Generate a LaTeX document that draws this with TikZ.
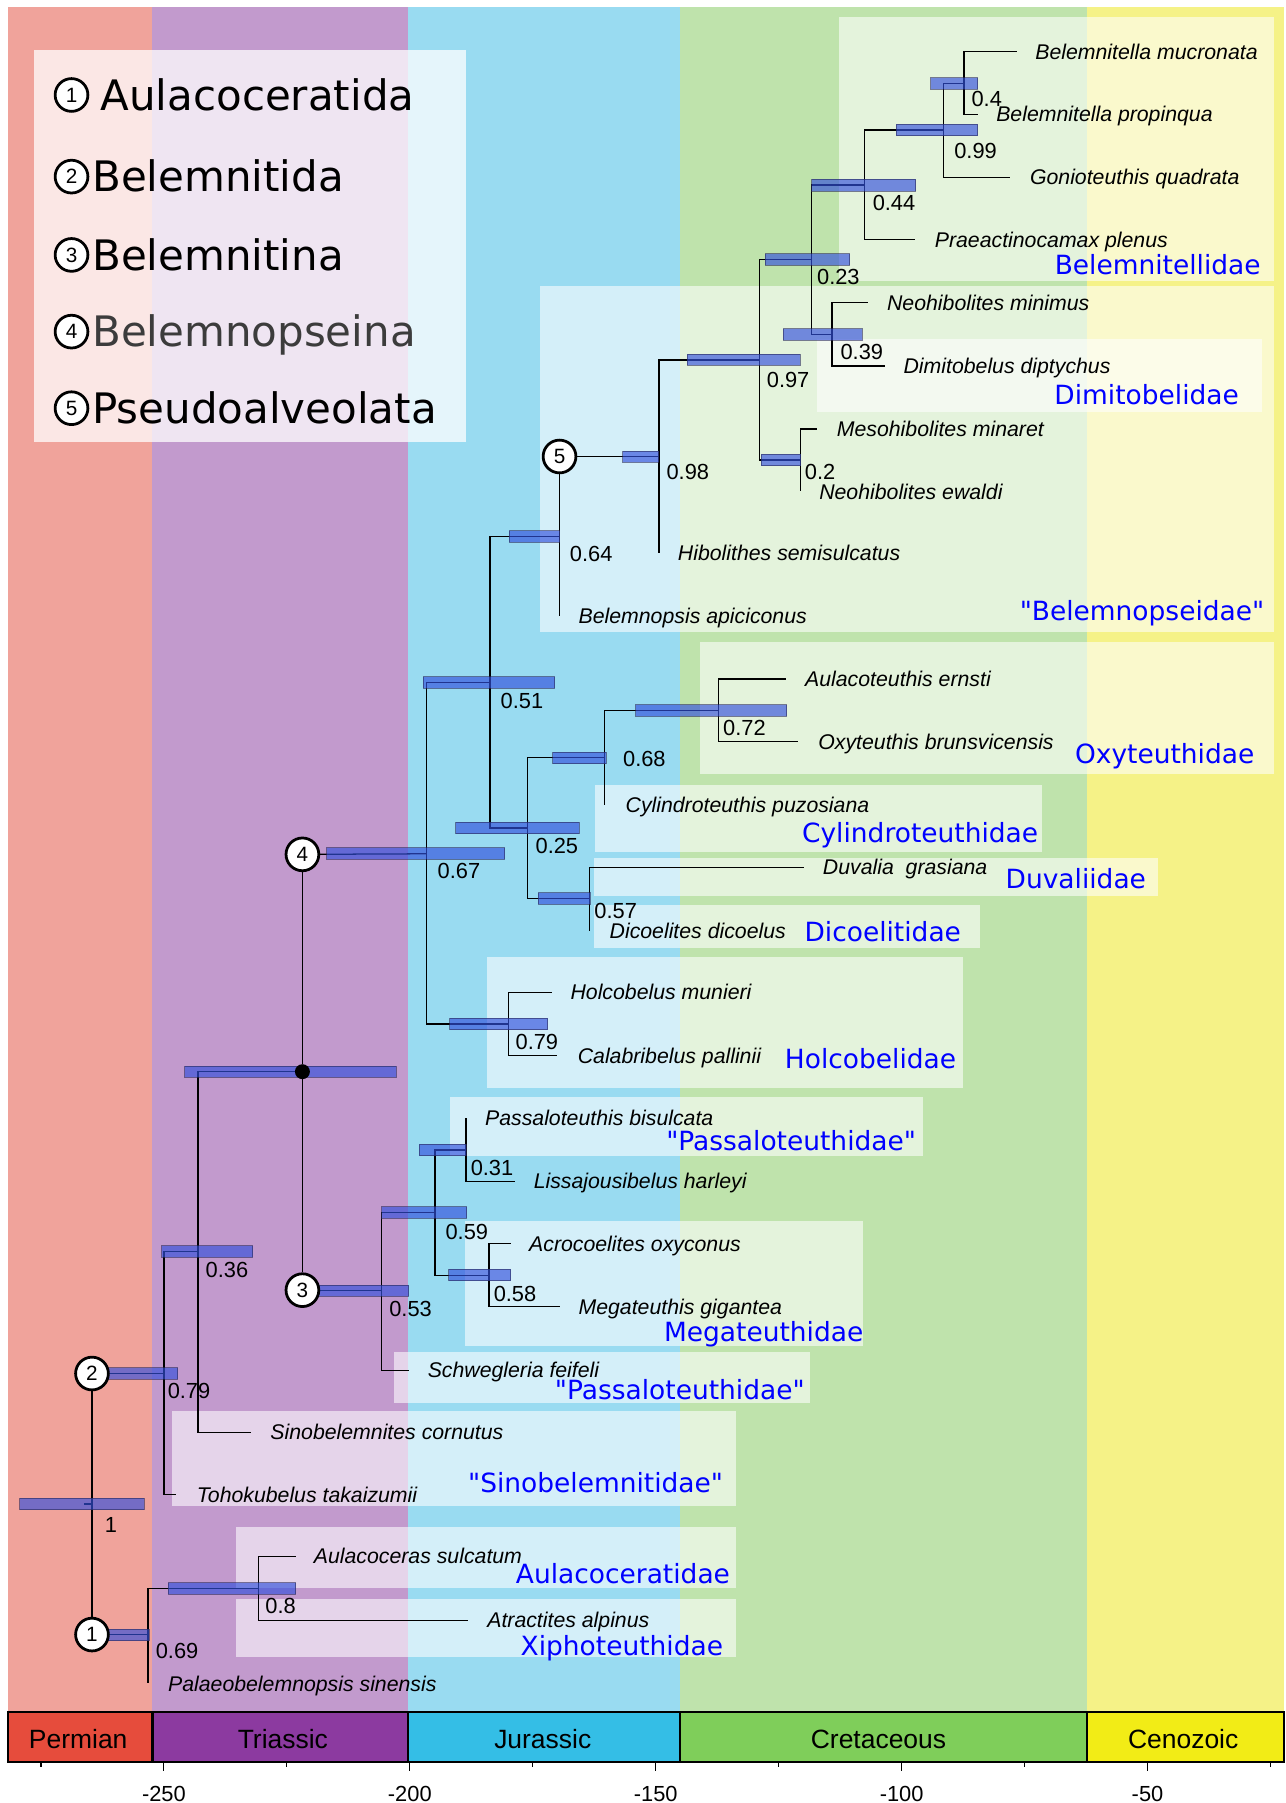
\documentclass[tikz,border=0pt]{standalone}
\usepackage{fontspec}
\setmainfont{Liberation Sans}
\newfontfamily\dejavu{DejaVu Sans}
\definecolor{perL}{RGB}{240,163,155}
\definecolor{triL}{RGB}{194,154,205}
\definecolor{jurL}{RGB}{153,219,241}
\definecolor{creL}{RGB}{191,227,172}
\definecolor{cenL}{RGB}{245,242,135}
\definecolor{perD}{RGB}{230,76,60}
\definecolor{triD}{RGB}{140,58,160}
\definecolor{jurD}{RGB}{52,190,230}
\definecolor{creD}{RGB}{127,206,90}
\definecolor{cenD}{RGB}{242,236,22}
\definecolor{barC}{RGB}{50,80,220}
\definecolor{barE}{RGB}{40,40,90}
\definecolor{cladeblue}{RGB}{0,0,255}
\definecolor{leggray}{RGB}{60,60,60}
\pgfdeclarelayer{back}
\pgfdeclarelayer{mid}
\pgfsetlayers{back,mid,main}
\begin{document}
\begin{tikzpicture}[x=1pt,y=-1pt,
  br/.style={line width=1.1pt, black},
  barbox/.style={fill=barC, fill opacity=0.65, draw=barE, draw opacity=0.6, line width=0.7pt},
  cbox/.style={fill=white, fill opacity=0.58, draw=none},
  circ/.style={circle, draw=black, line width=2.4pt, fill=white, minimum size=28.5pt, inner sep=0pt, font=\fontsize{18}{18}\selectfont},
  dotn/.style={circle, fill=black, minimum size=13pt, inner sep=0pt},
  tax/.style={anchor=base west, inner sep=0pt, font=\fontsize{18.5}{20}\selectfont\itshape},
  supp/.style={anchor=west, inner sep=0pt, font=\fontsize{19}{20}\selectfont},
  clade/.style={anchor=base east, inner sep=0pt, text=cladeblue, font=\dejavu\fontsize{23}{25}\selectfont},
  legtext/.style={anchor=base west, inner sep=0pt, font=\dejavu\fontsize{36.5}{38}\selectfont},
  period/.style={anchor=base, inner sep=0pt, font=\fontsize{23}{24}\selectfont},
  axlab/.style={anchor=base, inner sep=0pt, font=\fontsize{19}{20}\selectfont},
  tsbox/.style={draw=black, line width=1.8pt},
  tick/.style={line width=1pt, black}
]
\useasboundingbox (0,0) rectangle (1118,1568);

% ---------- circles and named tree points ----------
\node[circ] (c1) at (80,1421.5) {1};
\node[circ] (c2) at (80,1194.5) {2};
\node[circ] (c3) at (263,1122) {3};
\node[circ] (c4) at (263,743) {4};
\node[circ] (c5) at (486.6,397) {5};
\node[dotn] (dot) at (263,932) {};

\coordinate (rootT) at (73,1308);
\coordinate (root) at (80,1308);
\coordinate (a069) at (128.6,1421.5);
\coordinate (a08) at (224.9,1381.6);
\coordinate (a079) at (142.7,1194.5);
\coordinate (a036) at (172.2,1088.5);
\coordinate (a053) at (331.8,1122);
\coordinate (a059) at (378.2,1054.6);
\coordinate (a031) at (405.2,1000);
\coordinate (a058) at (425.2,1109);
\coordinate (a067) at (371.2,742.5);
\coordinate (a079h) at (442,890.5);
\coordinate (a051) at (426.2,593.6);
\coordinate (a025) at (459,720);
\coordinate (a068) at (526,659);
\coordinate (a072) at (625,618);
\coordinate (a057) at (512.7,781.3);
\coordinate (a064) at (486.6,466.5);
\coordinate (a098) at (573,397);
\coordinate (a097) at (660.3,313);
\coordinate (a02) at (696.2,400);
\coordinate (a023) at (706,225.7);
\coordinate (a044) at (752,161);
\coordinate (a099) at (820.7,113);
\coordinate (a04) at (838.3,72.5);
\coordinate (a039) at (723.6,290.8);
% leaves
\coordinate (Lbm) at (884,44.9);
\coordinate (Lbp) at (850.1,99.4);
\coordinate (Lgon) at (878,154.2);
\coordinate (Lpra) at (795.6,208.6);
\coordinate (Lneom) at (755.2,263.1);
\coordinate (Ldim) at (769.5,318.2);
\coordinate (Lmes) at (710.4,373);
\coordinate (Lneoe) at (696.2,427.4);
\coordinate (Lhib) at (573,481);
\coordinate (Lbel) at (486.6,536);
\coordinate (Laulac) at (683.2,590.6);
\coordinate (Loxy) at (694.4,644.8);
\coordinate (Lcyl) at (526,700.4);
\coordinate (Lduv) at (699,754.3);
\coordinate (Ldic) at (512.7,809.3);
\coordinate (Lhol) at (480.2,863);
\coordinate (Lcal) at (484.8,918);
\coordinate (Lpas) at (405.2,972.5);
\coordinate (Llis) at (447.7,1027.3);
\coordinate (Lacr) at (444.2,1081.4);
\coordinate (Lmeg) at (486.6,1136.5);
\coordinate (Lsch) at (355.3,1191.6);
\coordinate (Lsino) at (218.7,1245.5);
\coordinate (Ltoh) at (153,1300);
\coordinate (Laul) at (257,1353.5);
\coordinate (Latr) at (407,1409);
\coordinate (Lpal) at (128.6,1464);

% ---------- background ----------
\begin{pgfonlayer}{back}
\fill[white] (0,0) rectangle (1118,1568);
\fill[perL] (7,6) rectangle (132.6,1489);
\fill[triL] (132.6,6) rectangle (354.9,1489);
\fill[jurL] (354.9,6) rectangle (591.7,1489);
\fill[creL] (591.7,6) rectangle (945.5,1489);
\fill[cenL] (945.5,6) rectangle (1117,1489);
% clade boxes
\fill[cbox] (729.4,15) rectangle (1108,244.3);
\fill[cbox] (469.6,248.6) rectangle (1108,550);
\fill[cbox] (710.4,295) rectangle (1097.3,357.9);
\fill[cbox] (608.6,558.7) rectangle (1108,673.2);
\fill[cbox] (517.7,683) rectangle (906,741);
\fill[cbox] (516.8,746) rectangle (1007,779.5);
\fill[cbox] (516.8,786.8) rectangle (852.6,824.4);
\fill[cbox] (423.2,832.5) rectangle (837.2,946);
\fill[cbox] (391.2,954.2) rectangle (802.6,1005);
\fill[cbox] (404.2,1062) rectangle (750.7,1170.7);
\fill[cbox] (342.3,1175.6) rectangle (704.7,1220);
\fill[cbox] (149.5,1227) rectangle (640,1310);
\fill[cbox] (205,1327.6) rectangle (640,1381.4);
\fill[cbox] (205,1391) rectangle (640,1441);
% legend box
\fill[white, fill opacity=0.75] (29.9,43.5) rectangle (405,384.3);
\end{pgfonlayer}

% ---------- branches ----------
\begin{pgfonlayer}{mid}
\draw[br] (rootT) -- (root);
\draw[br] (c2) -- (c1);
\draw[br] (c1) -- (a069);
\draw[br] (a069) |- (a08);
\draw[br] (a069) |- (Lpal);
\draw[br] (a08) |- (Laul);
\draw[br] (a08) |- (Latr);
\draw[br] (c2) -- (a079);
\draw[br] (a079) |- (a036);
\draw[br] (a079) |- (Ltoh);
\draw[br] (a036) |- (dot);
\draw[br] (a036) |- (Lsino);
\draw[br] (dot) -- (c4);
\draw[br] (dot) -- (c3);
\draw[br] (c3) -- (a053);
\draw[br] (a053) |- (a059);
\draw[br] (a053) |- (Lsch);
\draw[br] (a059) |- (a031);
\draw[br] (a059) |- (a058);
\draw[br] (a031) |- (Lpas);
\draw[br] (a031) |- (Llis);
\draw[br] (a058) |- (Lacr);
\draw[br] (a058) |- (Lmeg);
\draw[br] (c4) -- (a067);
\draw[br] (a067) |- (a051);
\draw[br] (a067) |- (a079h);
\draw[br] (a079h) |- (Lhol);
\draw[br] (a079h) |- (Lcal);
\draw[br] (a051) |- (a064);
\draw[br] (a051) |- (a025);
\draw[br] (a025) |- (a068);
\draw[br] (a025) |- (a057);
\draw[br] (a068) |- (a072);
\draw[br] (a068) |- (Lcyl);
\draw[br] (a072) |- (Laulac);
\draw[br] (a072) |- (Loxy);
\draw[br] (a057) |- (Lduv);
\draw[br] (a057) |- (Ldic);
\draw[br] (a064) -- (c5);
\draw[br] (a064) -- (Lbel);
\draw[br] (c5) -- (a098);
\draw[br] (a098) |- (a097);
\draw[br] (a098) |- (Lhib);
\draw[br] (a097) |- (a023);
\draw[br] (a097) |- (a02);
\draw[br] (a02) |- (Lmes);
\draw[br] (a02) |- (Lneoe);
\draw[br] (a023) |- (a044);
\draw[br] (a023) |- (a039);
\draw[br] (a044) |- (a099);
\draw[br] (a044) |- (Lpra);
\draw[br] (a099) |- (a04);
\draw[br] (a099) |- (Lgon);
\draw[br] (a04) |- (Lbm);
\draw[br] (a04) |- (Lbp);
\draw[br] (a039) |- (Lneom);
\draw[br] (a039) |- (Ldim);
% ---------- age bars ----------
\foreach \xa/\xb/\yc in {17/125.5/1308, 91/130/1422, 146.4/257.3/1381.5, 92/154.7/1194.3,
  140.7/219.6/1088.5, 160.7/344.3/932, 277/355.3/1122.5, 331.8/405.7/1054.5,
  364.3/405.2/1000, 390.3/444.2/1108.7, 284/439/742.3, 368/482.3/593.6,
  396.2/503.5/720, 480.7/527.3/659, 552.7/684/618, 468/513.5/781.3,
  391.2/476.4/890.6, 442.7/486.6/466.5, 541.6/573/397.2, 597.6/696/312.8,
  665.7/739/225.7, 706/796.3/161.1, 779.2/850.1/113, 809.4/850.1/72.5,
  681/749.8/290.8, 661.8/696.2/399.9}
  \path[barbox] (\xa,\yc-5) rectangle (\xb,\yc+5);
\end{pgfonlayer}

% ---------- support values ----------
\node[supp] (s1) at (844.7,86) {0.4};
\node[supp] (s2) at (829.7,131) {0.99};
\node[supp] (s3) at (758.8,176.8) {0.44};
\node[supp] (s4) at (710.4,241) {0.23};
\node[supp] (s5) at (730.8,305.7) {0.39};
\node[supp] (s6) at (666.7,330.3) {0.97};
\node[supp] (s7) at (699.8,410.6) {0.2};
\node[supp] (s8) at (579.5,410.6) {0.98};
\node[supp] (s9) at (495.5,481.9) {0.64};
\node[supp] (s10) at (435.2,609.4) {0.51};
\node[supp] (s11) at (628.7,633) {0.72};
\node[supp] (s12) at (541.7,660) {0.68};
\node[supp] (s13) at (465.6,736) {0.25};
\node[supp] (s14) at (380.4,757.8) {0.67};
\node[supp] (s15) at (516.8,792.5) {0.57};
\node[supp] (s16) at (448.2,906) {0.79};
\node[supp] (s17) at (409.2,1015.7) {0.31};
\node[supp] (s18) at (387.3,1071.6) {0.59};
\node[supp] (s19) at (429.2,1125) {0.58};
\node[supp] (s20) at (178.7,1104.7) {0.36};
\node[supp] (s21) at (338.4,1138) {0.53};
\node[supp] (s22) at (145.7,1210) {0.79};
\node[supp] (s23) at (91,1326.5) {1};
\node[supp] (s24) at (230.6,1397) {0.8};
\node[supp] (s25) at (135.3,1436) {0.69};

% ---------- taxon labels ----------
\node[tax] (t1) at (900.2,51.5) {Belemnitella mucronata};
\node[tax] (t2) at (866.2,106) {Belemnitella propinqua};
\node[tax] (t3) at (895.6,160.8) {Gonioteuthis quadrata};
\node[tax] (t4) at (812.8,215.2) {Praeactinocamax plenus};
\node[tax] (t5) at (771.3,269.7) {Neohibolites minimus};
\node[tax] (t6) at (785.6,324.8) {Dimitobelus diptychus};
\node[tax] (t7) at (727.6,379.6) {Mesohibolites minaret};
\node[tax] (t8) at (712.3,434) {Neohibolites ewaldi};
\node[tax] (t9) at (589.4,487.6) {Hibolithes semisulcatus};
\node[tax] (t10) at (503,542.6) {Belemnopsis apiciconus};
\node[tax] (t11) at (700,597.2) {Aulacoteuthis ernsti};
\node[tax] (t12) at (711.5,651.4) {Oxyteuthis brunsvicensis};
\node[tax] (t13) at (543.9,707) {Cylindroteuthis puzosiana};
\node[tax] (t14) at (715.5,760.9) {Duvalia\ \ grasiana};
\node[tax] (t15) at (530,815.9) {Dicoelites dicoelus};
\node[tax] (t16) at (496,869.6) {Holcobelus munieri};
\node[tax] (t17) at (502.3,924.6) {Calabribelus pallinii};
\node[tax] (t18) at (421.7,979.1) {Passaloteuthis bisulcata};
\node[tax] (t19) at (464,1033.9) {Lissajousibelus harleyi};
\node[tax] (t20) at (460,1088) {Acrocoelites oxyconus};
\node[tax] (t21) at (503,1143.1) {Megateuthis gigantea};
\node[tax] (t22) at (371.8,1198.2) {Schwegleria feifeli};
\node[tax] (t23) at (235,1252.1) {Sinobelemnites cornutus};
\node[tax] (t24) at (171,1306.6) {Tohokubelus takaizumii};
\node[tax] (t25) at (272.8,1360.1) {Aulacoceras sulcatum};
\node[tax] (t26) at (423.6,1415.6) {Atractites alpinus};
\node[tax] (t27) at (146,1470.6) {Palaeobelemnopsis sinensis};

% ---------- clade labels ----------
\node[clade] (k1) at (1096.5,238.8) {Belemnitellidae};
\node[clade] (k2) at (1077.6,351.8) {Dimitobelidae};
\node[clade] (k3) at (1099.7,539.3) {"Belemnopseidae"};
\node[clade] (k4) at (1091,664.2) {Oxyteuthidae};
\node[clade] (k5) at (903,732.9) {Cylindroteuthidae};
\node[clade] (k6) at (996.8,772.6) {Duvaliidae};
\node[clade] (k7) at (835.9,819.2) {Dicoelitidae};
\node[clade] (k8) at (831.7,929.4) {Holcobelidae};
\node[clade] (k9) at (796.8,1000.3) {"Passaloteuthidae"};
\node[clade] (k10) at (751,1167) {Megateuthidae};
\node[clade] (k11) at (700,1217.4) {"Passaloteuthidae"};
\node[clade] (k12) at (629,1297.9) {"Sinobelemnitidae"};
\node[clade] (k13) at (635,1377.4) {Aulacoceratidae};
\node[clade] (k14) at (629,1439.9) {Xiphoteuthidae};

% ---------- legend ----------
\node[circ] (lg1) at (62.2,82.6) {1};
\node[circ] (lg2) at (62.2,153.6) {2};
\node[circ] (lg3) at (62.2,221.7) {3};
\node[circ] (lg4) at (62.2,288.4) {4};
\node[circ] (lg5) at (62.2,355) {5};
\node[legtext] (lt1) at (87.3,95.9) {Aulacoceratida};
\node[legtext] (lt2) at (80,166.9) {Belemnitida};
\node[legtext] (lt3) at (80,235) {Belemnitina};
\node[legtext, text=leggray] (lt4) at (80,301.7) {Belemnopseina};
\node[legtext] (lt5) at (80,368.3) {Pseudoalveolata};

% ---------- time scale ----------
\path[tsbox, fill=perD] (7,1489) rectangle (132.6,1532);
\path[tsbox, fill=triD] (132.6,1489) rectangle (354.9,1532);
\path[tsbox, fill=jurD] (354.9,1489) rectangle (591.7,1532);
\path[tsbox, fill=creD] (591.7,1489) rectangle (945.5,1532);
\path[tsbox, fill=cenD] (945.5,1489) rectangle (1117,1532);
\node[period] (p1) at (68,1520.2) {Permian};
\node[period] (p2) at (246,1520.2) {Triassic};
\node[period] (p3) at (472,1520.2) {Jurassic};
\node[period] (p4) at (764,1520.2) {Cretaceous};
\node[period] (p5) at (1029,1520.2) {Cenozoic};
\foreach \t in {-275,-225,-175,-125,-75,-25}
  \draw[tick] ({356.4+(\t+200)*4.277},1533) -- ++(0,3.5);
\foreach \t in {-250,-200,-150,-100,-50}{
  \draw[tick] ({356.4+(\t+200)*4.277},1533) -- ++(0,7);
  \node[axlab] at ({356.4+(\t+200)*4.277},1566.3) {\t};
}
\end{tikzpicture}
\end{document}
